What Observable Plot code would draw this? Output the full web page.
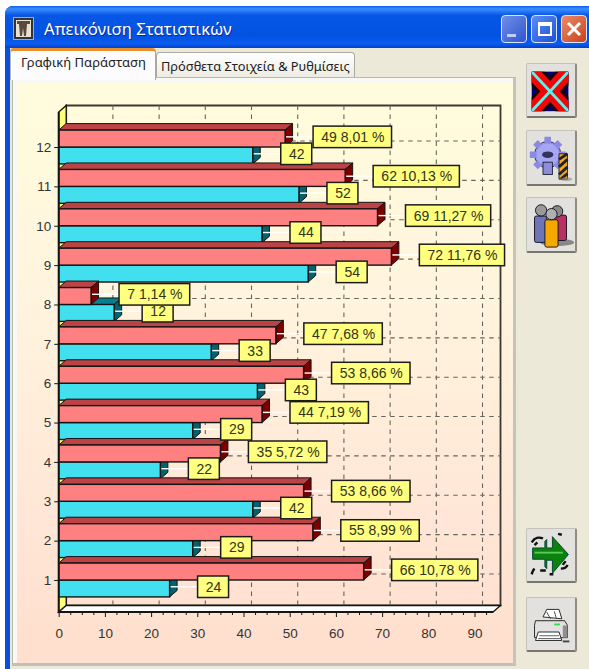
<!DOCTYPE html>
<html lang="el">
<head>
<meta charset="utf-8">
<script src="https://cdn.jsdelivr.net/npm/d3@7"></script>
<script src="https://cdn.jsdelivr.net/npm/@observablehq/plot@0.6"></script>
<style>
html,body{margin:0;padding:0;background:#fff;overflow:hidden}
#win{position:relative;width:589px;height:669px;overflow:hidden;font-family:"Noto Sans","Liberation Sans",sans-serif}
#win>*{position:absolute;box-sizing:border-box}
.ctl{top:15px;width:26px;height:28px;border:1px solid #d8e6ff;border-radius:4px}
.btn{left:526px;width:51px;background:#e2e1dd;border:1px solid #c4c3bb;border-right:2px solid #8d8c85;border-bottom:2px solid #77766f;border-radius:2px}
.btn svg{position:absolute;left:0;top:0;width:100%;height:100%}
</style>
</head>
<body>
<div id="win">
  <div style="left:5px;top:6px;width:584px;height:663px;background:#0a4fdc;border-radius:8px 0 0 0"></div>
  <div style="left:5px;top:6px;width:584px;height:42px;border-radius:8px 0 0 0;background:linear-gradient(#0a5fee 0,#3c8ffb 7%,#0757e6 22%,#0351e0 70%,#0a5cf0 90%,#0240c8 100%)"></div>
  <div style="left:10px;top:48px;width:579px;height:621px;background:#ece9d8"></div>

  <svg style="left:13px;top:17px" width="21" height="23" viewBox="0 0 21 23"><rect x=".5" y=".5" width="20" height="22" fill="#333" stroke="#aaa"/><rect x="3" y="3" width="15" height="17" fill="#e9e2d4"/><path d="M4 4h13v3h-3l-1 12h-2l-1-8-1 8H7L6 7H4z" fill="#5b4a3c"/></svg>
  <div style="left:44px;top:15px;color:#fff;font-size:16.7px;line-height:27px;white-space:nowrap;text-shadow:1px 1px 0 #0a2a9a">Απεικόνιση Στατιστικών</div>

  <div class="ctl" style="left:501px;background:linear-gradient(135deg,#6f8fe8,#2f55cf)"><div style="position:absolute;left:5px;bottom:5px;width:9px;height:3px;background:#c0cdf5"></div></div>
  <div class="ctl" style="left:531px;background:linear-gradient(135deg,#5d8df0,#1f50d8)"><div style="position:absolute;left:6px;top:6px;width:14px;height:14px;border:2px solid #fff;border-top-width:4px;box-sizing:border-box"></div></div>
  <div class="ctl" style="left:561px;background:linear-gradient(135deg,#ec8a68,#c8431c)"><svg width="24" height="26" style="position:absolute;left:0;top:0"><path d="M6 7l12 12M18 7L6 19" stroke="#fff" stroke-width="3"/></svg></div>

  <div style="left:156px;top:52px;width:199px;height:26px;background:linear-gradient(#fff,#ecebe2);border:1px solid #a8a99f;border-bottom:none;border-radius:4px 4px 0 0"></div>
  <div style="left:161px;top:56px;font-size:12.8px;line-height:20px;color:#222;white-space:nowrap">Πρόσθετα Στοιχεία &amp; Ρυθμίσεις</div>

  <div style="left:12px;top:77px;width:504px;height:589px;background:#f9f8f3;border:1px solid #b8b9ae;border-right:3px solid #c3c4bb;border-bottom:3px solid #bfc0b7"></div>
  <div style="left:10px;top:48px;width:146px;height:32px;background:#fcfcfe;border-left:1px solid #b8b9ae;border-right:1px solid #a8a99f;border-radius:4px 4px 0 0;border-top:3px solid #e8912e"></div>
  <div style="left:21px;top:52px;font-size:13px;line-height:20px;color:#222;white-space:nowrap">Γραφική Παράσταση</div>

  <div id="chart" style="left:17px;top:83px;width:496px;height:580px;background:linear-gradient(#fffcdc 0%,#fff5de 35%,#ffe6d6 75%,#ffdfcd 100%)"></div>

  <div class="btn" style="top:63px;height:55px"><svg viewBox="0 0 51 55"><clipPath id="cx"><rect x="5" y="8" width="39" height="42"/></clipPath><rect x="5" y="8" width="39" height="42" fill="#00007a"/><g clip-path="url(#cx)" fill="none"><path d="M5 8L44 50M44 8L5 50" stroke="#1a0000" stroke-width="21"/><path d="M5 8L44 50M44 8L5 50" stroke="#f00808" stroke-width="15"/><path d="M5 8L44 50M44 8L5 50" stroke="#55f4ee" stroke-width="3"/></g></svg></div>

  <div class="btn" style="top:130px;height:56px"><svg viewBox="0 0 51 56"><g transform="translate(22 25)"><circle r="14" fill="#9a9af0" stroke="#223" stroke-width="1"/><g stroke="#8a8ae6" stroke-width="7"><path d="M0-19V19M-19 0H19M-13-13L13 13M13-13L-13 13"/></g><circle r="12" fill="#a6a6f4"/><ellipse cy="0" rx="6" ry="3.5" fill="#34345a"/><rect x="-5" y="8" width="10" height="13" fill="#8d8de0" stroke="#223"/></g><path d="M34 24h9v27h-9z" fill="#f5a623" stroke="#222"/><path d="M34 30l9-6M34 38l9-8M34 46l9-8M36 51l7-6" stroke="#222" stroke-width="3"/><ellipse cx="42" cy="51" rx="6" ry="2" fill="#888" opacity=".6"/></svg></div>

  <div class="btn" style="top:197px;height:56px"><svg viewBox="0 0 51 56"><ellipse cx="32" cy="47" rx="18" ry="4" fill="#888"/><g stroke="#112" stroke-width="1"><rect x="30" y="18" width="12" height="27" rx="2" fill="#b8305f"/><circle cx="32" cy="14" r="6" fill="#8a8a8a"/><rect x="8" y="19" width="13" height="28" rx="2" fill="#6d74b8"/><circle cx="15" cy="13" r="6" fill="#9a9a9a"/><rect x="19" y="23" width="14" height="29" rx="2" fill="#f5a800"/><circle cx="26" cy="17" r="6" fill="#b0b0b0"/></g></svg></div>

  <div class="btn" style="top:528px;height:55px"><svg viewBox="0 0 51 55"><path d="M6 20h13v-7l2-2v9h6V8l17 19-17 20V33h-6v9l-2-2v-8H6z" fill="#0b820b" stroke="#043" stroke-width="1"/><path d="M8 25h30" stroke="#5cc85c" stroke-width="2"/><g stroke="#111" stroke-width="2.6" fill="none"><path d="M5 14c3-5 8-6 12-4M33 5l4 1M41 34l-3 4M8 42c-2 2-2 3-3 6M14 44h6M36 42c3 0 6-1 7-4M28 48h-4M8 17l3-3"/></g></svg></div>

  <div class="btn" style="top:597px;height:55px"><svg viewBox="0 0 51 55"><path d="M17 20l4-8h13l3 10z" fill="#fff" stroke="#222"/><path d="M21 15l4 7M29 14l2 7" stroke="#444"/><path d="M9 24h31l3 5v13H8V29z" fill="#e2e2e2" stroke="#222"/><path d="M38 29v13h5V29z" fill="#8f8f8f"/><rect x="29" y="27" width="6" height="2" fill="#2fe04a"/><path d="M12 36h22l3 9H9z" fill="#fff" stroke="#222"/><path d="M13 40h21M12 43h24" stroke="#555"/><path d="M38 46h7" stroke="#444" stroke-width="2"/></svg></div>
</div>
<script>
// ----- data -----
const categories = [1,2,3,4,5,6,7,8,9,10,11,12];
const redValues  = [66,55,53,35,44,53,47,7,72,69,62,49];
const redPercent = ["10,78","8,99","8,66","5,72","7,19","8,66","7,68","1,14","11,76","11,27","10,13","8,01"];
const cyanValues = [24,29,42,22,29,43,33,12,54,44,52,42];
const xMajor = [0,10,20,30,40,50,60,70,80,90];
const xMinor = [2.5,5,7.5,12.5,15,17.5,22.5,25,27.5,32.5,35,37.5,42.5,45,47.5,52.5,55,57.5,62.5,65,67.5,72.5,75,77.5,82.5,85,87.5,92.5];
const xDomain = [0,94];
const yDomain = [0.187,12.89];
// ----- styling -----
const barSpan = 0.43, depthX = 7.5, depthY = 6.5, ink = "#141414";
const red  = {front:"#ff8080", top:"#bb4245", side:"#7d0000"};
const cyan = {front:"#42e0ee", top:"#04808f", side:"#04616e"};
const labelFont = '14px "Liberation Sans"';
const ctx = document.createElement("canvas").getContext("2d");
ctx.font = labelFont;
const padX = 7.7, gap = 28, boxH = 21.5, liftPx = 1.7;

const redRows  = categories.map((c,i)=>({c, v:redValues[i],  text:`${redValues[i]} ${redPercent[i]} %`, y1:c, y2:c+barSpan, mid:c+barSpan/2}));
const cyanRows = categories.map((c,i)=>({c, v:cyanValues[i], text:`${cyanValues[i]}`, y1:c-barSpan, y2:c, mid:c-barSpan/2}));
const ns = "http://www.w3.org/2000/svg";
const mk = (parent,tag,attrs)=>{const e=document.createElementNS(ns,tag);for(const k in attrs)e.setAttribute(k,attrs[k]);parent.appendChild(e);return e;};

// depth faces of a series, placed through the plot's scales
const faces = (rows,col)=>(index,{x,y})=>{
  const g=document.createElementNS(ns,"g");
  for(const r of [...rows].sort((a,b)=>b.c-a.c)){
    const x0=x(0),x1=x(r.v),t=y(r.y2),b=y(r.y1);
    mk(g,"path",{d:`M${x0},${t}L${x0+depthX},${t-depthY}L${x1+depthX},${t-depthY}L${x1},${t}Z`,fill:col.top,stroke:ink,"stroke-width":1});
    mk(g,"path",{d:`M${x1},${t}L${x1+depthX},${t-depthY}L${x1+depthX},${b-depthY}L${x1},${b}Z`,fill:col.side,stroke:ink,"stroke-width":1});
  }
  return g;
};
// chart box: back wall, yellow side wall, white floor
const room = (index,{x,y})=>{
  const g=document.createElementNS(ns,"g");
  const L=x(xDomain[0]),R=x(xDomain[1]),T=y(yDomain[1]),B=y(yDomain[0]);
  mk(g,"path",{d:`M${L+depthX},${T-depthY}H${R+depthX}V${B-depthY}H${L+depthX}Z`,fill:"none",stroke:"#3a3a30","stroke-width":1.8});
  mk(g,"path",{d:`M${L},${T}L${L+depthX},${T-depthY}V${B-depthY}L${L},${B}Z`,fill:"#ffff78",stroke:ink,"stroke-width":1.3});
  mk(g,"path",{d:`M${L},${B}L${L+depthX},${B-depthY}H${R+depthX}L${R},${B}Z`,fill:"#fff",stroke:ink,"stroke-width":1.3});
  return g;
};
const frontAxes = (index,{x,y})=>{
  const g=document.createElementNS(ns,"g");
  const L=x(xDomain[0]),R=x(xDomain[1]),T=y(yDomain[1]),B=y(yDomain[0]);
  mk(g,"path",{d:`M${L},${T}V${B}H${R}`,fill:"none",stroke:ink,"stroke-width":2});
  return g;
};
// callout boxes with their white leader lines
const callouts = rows=>(index,{x,y})=>{
  const g=document.createElementNS(ns,"g");
  for(const r of rows){
    const w=ctx.measureText(r.text).width+2*padX, left=x(r.v)+gap, cy=y(r.mid)-liftPx;
    mk(g,"line",{x1:x(r.v)+1,x2:left,y1:cy,y2:cy,stroke:"#fff","stroke-width":1.4});
    mk(g,"rect",{x:left,y:cy-boxH/2,width:w,height:boxH,fill:"#ffff80",stroke:"#1c1c1c","stroke-width":1.5});
  }
  return g;
};
const barMark = (rows,col)=>Plot.rect(rows,{x1:()=>0,x2:"v",y1:"y1",y2:"y2",fill:col.front,stroke:ink,strokeWidth:1.4});
const textMark = rows=>Plot.text(rows,{x:"v",y:"mid",text:"text",textAnchor:"start",dx:gap+padX,dy:-liftPx,fontSize:14,fill:"#33331a"});

const plot = Plot.plot({
  width:496, height:580,
  marginLeft:41.7, marginRight:20, marginTop:29, marginBottom:51,
  style:{background:"transparent",fontFamily:"Liberation Sans",fontSize:"13px",color:"#333"},
  x:{domain:xDomain,axis:null},
  y:{domain:yDomain,axis:null},
  marks:[
    room,
    Plot.ruleX(xMajor.slice(1),{x:d=>d,dx:depthX,dy:-depthY,stroke:"#66665c",strokeDasharray:"4.5,4.5",strokeWidth:1.1}),
    Plot.ruleY(categories,{y:d=>d,dx:depthX,dy:-depthY,stroke:"#66665c",strokeDasharray:"4.5,4.5",strokeWidth:1.1}),
    Plot.axisX({ticks:xMinor,tickSize:3,text:null,label:null,stroke:ink}),
    Plot.axisX({ticks:xMajor,tickSize:5,tickPadding:11,tickFormat:d=>d,label:null,stroke:ink,fontSize:13.5}),
    Plot.axisY({ticks:categories,tickSize:4.5,tickPadding:3.5,tickFormat:d=>d,label:null,stroke:ink,fontSize:13.5}),
    faces(cyanRows,cyan),
    barMark(cyanRows,cyan),
    faces(redRows,red),
    barMark(redRows,red),
    frontAxes,
    callouts(cyanRows),
    textMark(cyanRows),
    callouts(redRows),
    textMark(redRows)
  ]
});
document.getElementById("chart").appendChild(plot);
</script>
</body>
</html>
